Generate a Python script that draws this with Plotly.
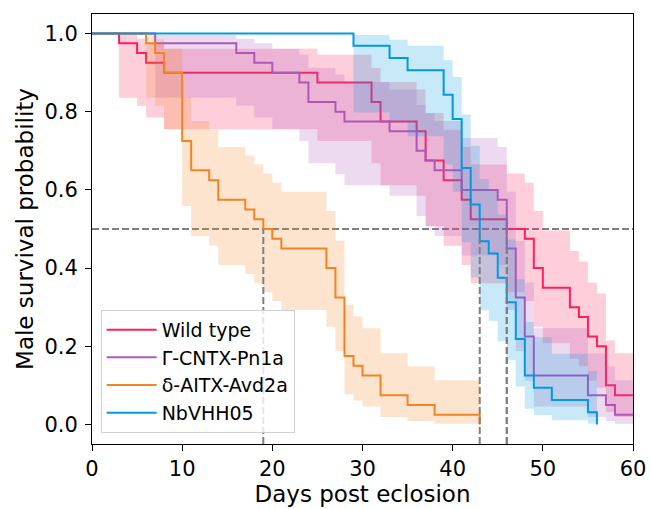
import plotly.graph_objects as go

# ---- data ----
names = ["Wild type", "Γ-CNTX-Pn1a", "δ-AITX-Avd2a", "NbVHH05"]
colors = ["#FF1F5B", "#AF58BA", "#F28522", "#009ADE"]
fills = ["rgba(255,31,91,0.22)", "rgba(175,88,186,0.22)",
         "rgba(242,133,34,0.22)", "rgba(0,154,222,0.22)"]

wt_days = [0, 3, 5, 6, 8, 25, 31, 32, 36, 37, 39, 41, 42, 46, 48, 49, 50, 53, 54, 55, 56, 57, 58]
wt_surv = [1.0, 0.975, 0.95, 0.925, 0.9, 0.875, 0.825, 0.775, 0.75, 0.675, 0.625, 0.575, 0.525,
           0.5, 0.475, 0.4, 0.35, 0.3, 0.275, 0.225, 0.2, 0.1, 0.075]
wt_lower = [1.0, 0.836, 0.815, 0.785, 0.755, 0.725, 0.668, 0.612, 0.585, 0.507, 0.457, 0.408, 0.361,
            0.338, 0.316, 0.250, 0.208, 0.168, 0.149, 0.112, 0.094, 0.032, 0.019]
wt_upper = [1.0, 0.996, 0.987, 0.975, 0.961, 0.946, 0.912, 0.876, 0.857, 0.797, 0.754, 0.710, 0.665,
            0.642, 0.618, 0.546, 0.496, 0.444, 0.417, 0.363, 0.335, 0.215, 0.182]

pn_days = [0, 7, 16, 18, 20, 23, 24, 27, 28, 33, 36, 37, 38, 41, 45, 46, 47, 48, 49, 55, 57, 58]
pn_surv = [1.0, 0.975, 0.95, 0.925, 0.9, 0.875, 0.825, 0.8, 0.775, 0.75, 0.7, 0.675, 0.65, 0.6,
           0.575, 0.45, 0.325, 0.225, 0.125, 0.075, 0.05, 0.025]
pn_lower = [1.0, 0.836, 0.815, 0.785, 0.755, 0.725, 0.668, 0.640, 0.612, 0.585, 0.533, 0.507, 0.482,
            0.432, 0.408, 0.293, 0.188, 0.112, 0.046, 0.019, 0.009, 0.002]
pn_upper = [1.0, 0.996, 0.987, 0.975, 0.961, 0.946, 0.912, 0.895, 0.876, 0.857, 0.817, 0.797, 0.776,
            0.733, 0.710, 0.595, 0.470, 0.363, 0.246, 0.182, 0.148, 0.113]

av_days = [0, 6, 7, 8, 10, 11, 13, 14, 17, 18, 19, 20, 21, 26, 27, 28, 29, 30, 32, 35, 38, 43]
av_surv = [1.0, 0.975, 0.95, 0.9, 0.725, 0.65, 0.625, 0.575, 0.55, 0.525, 0.5, 0.475, 0.45, 0.4,
           0.325, 0.175, 0.15, 0.125, 0.075, 0.05, 0.025, 0.0]
av_lower = [1.0, 0.836, 0.815, 0.755, 0.559, 0.482, 0.457, 0.408, 0.385, 0.361, 0.338, 0.316, 0.293,
            0.250, 0.188, 0.077, 0.061, 0.046, 0.019, 0.009, 0.002]
av_upper = [1.0, 0.996, 0.987, 0.961, 0.837, 0.776, 0.754, 0.710, 0.688, 0.665, 0.642, 0.618, 0.595,
            0.546, 0.470, 0.306, 0.276, 0.246, 0.182, 0.148, 0.113]

nb_days = [0, 29, 33, 35, 39, 40, 41, 42, 43, 44, 45, 46, 47, 48, 49, 51, 55, 56]
nb_surv = [1.0, 0.96875, 0.9375, 0.90625, 0.84375, 0.78125, 0.65625, 0.5625, 0.46875, 0.4375,
           0.375, 0.3125, 0.21875, 0.125, 0.09375, 0.0625, 0.03125, 0.0]
nb_lower = [1.0, 0.798, 0.773, 0.737, 0.665, 0.595, 0.466, 0.376, 0.292, 0.265, 0.213, 0.164,
            0.097, 0.040, 0.024, 0.011, 0.002]
nb_upper = [1.0, 0.996, 0.984, 0.969, 0.932, 0.889, 0.793, 0.713, 0.628, 0.598, 0.537, 0.473,
            0.372, 0.262, 0.223, 0.181, 0.137]

end_days = [60, 60, 43, 56]
median_days = [46, 46, 19, 43]
median_level = 0.5

x_ticks = [0, 10, 20, 30, 40, 50, 60]
y_ticks = [0.0, 0.2, 0.4, 0.6, 0.8, 1.0]

series = [
    (wt_days, wt_surv, wt_lower, wt_upper),
    (pn_days, pn_surv, pn_lower, pn_upper),
    (av_days, av_surv, av_lower, av_upper),
    (nb_days, nb_surv, nb_lower, nb_upper),
]

FONT = "DejaVu Sans"
fig = go.Figure()

# horizontal median reference line (drawn first, beneath everything)
fig.add_trace(go.Scatter(x=[x_ticks[0], x_ticks[-1]], y=[median_level, median_level], mode="lines",
                         line=dict(color="#808080", width=2, dash="7px,3px"),
                         showlegend=False, hoverinfo="skip"))

for i, (days, surv, lower, upper) in enumerate(series):
    end = end_days[i]
    lx = list(days) + ([end] if end > days[-1] else [])
    ly = list(surv) + ([surv[-1]] if end > days[-1] else [])
    fig.add_trace(go.Scatter(x=lx, y=ly, mode="lines", line=dict(color=colors[i], width=2, shape="hv"),
                             name=names[i], legendgroup=names[i], hoverinfo="skip"))
    n = len(lower)
    bx = list(days[:n]) + [end]
    blo = list(lower) + [lower[-1]]
    bup = list(upper) + [upper[-1]]
    fig.add_trace(go.Scatter(x=bx, y=blo, mode="lines", line=dict(width=0, shape="hv", color=colors[i]),
                             showlegend=False, hoverinfo="skip"))
    fig.add_trace(go.Scatter(x=bx, y=bup, mode="lines", line=dict(width=0, shape="hv", color=colors[i]),
                             fill="tonexty", fillcolor=fills[i], showlegend=False, hoverinfo="skip"))

# vertical median lines
for m in median_days:
    fig.add_trace(go.Scatter(x=[m, m], y=[-0.05, median_level], mode="lines",
                             line=dict(color="#808080", width=2, dash="7px,3px"),
                             showlegend=False, hoverinfo="skip"))

axis_common = dict(showline=True, linecolor="black", linewidth=1, mirror=True, ticks="outside",
                   ticklen=6, tickwidth=1, tickcolor="black", showgrid=False, zeroline=False,
                   automargin=False,
                   tickfont=dict(family=FONT, size=21, color="black"))

fig.update_layout(
    width=650, height=509,
    margin=dict(l=92, r=17, t=14, b=65),
    paper_bgcolor="white", plot_bgcolor="white",
    font=dict(family=FONT, color="black"),
    xaxis=dict(range=[0, 60], tickvals=x_ticks,
               title=dict(text="Days post eclosion", font=dict(family=FONT, size=23), standoff=4),
               **axis_common),
    yaxis=dict(range=[-0.05, 1.05], tickvals=y_ticks, tickformat=".1f", ticklabelstandoff=3,
               title=dict(text="Male survival probability", font=dict(family=FONT, size=23), standoff=4),
               **axis_common),
    legend=dict(x=0.016, y=0.026, xanchor="left", yanchor="bottom",
                bgcolor="rgba(255,255,255,0.8)", bordercolor="#d0d0d0", borderwidth=1,
                font=dict(family=FONT, size=19, color="black"), tracegroupgap=8,
                itemwidth=50, traceorder="normal"),
    showlegend=True,
)

fig.write_html("out.html", config={"displayModeBar": False},
               post_script="document.body.style.margin='0px';document.body.style.overflow='hidden';")
